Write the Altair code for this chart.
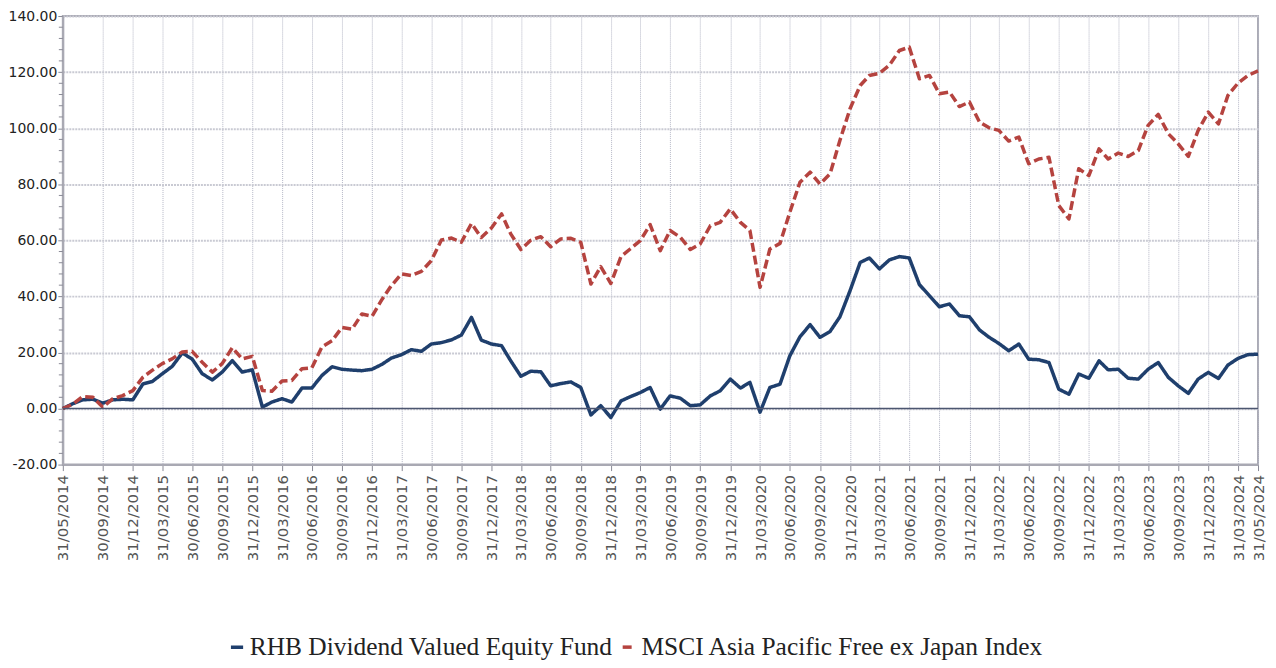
import altair as alt
import pandas as pd

# ---------------- data ----------------
try:
    _rng = pd.date_range("2014-05-31", "2024-05-31", freq="ME")
except ValueError:
    _rng = pd.date_range("2014-05-31", "2024-05-31", freq="M")
dates = [d.strftime("%Y-%m-%d") for d in _rng]

fund = [
    0.0, 1.7, 3.1, 3.3, 1.9, 3.1, 3.3, 3.1, 8.8, 9.6,
    12.4, 15.0, 19.8, 17.7, 12.4, 10.2, 13.0, 17.1, 13.0, 13.8,
    0.5, 2.3, 3.5, 2.3, 7.3, 7.3, 11.8, 14.9, 14.0, 13.7,
    13.5, 14.0, 15.8, 18.0, 19.2, 21.0, 20.4, 23.0, 23.5, 24.5,
    26.2, 32.5, 24.4, 23.0, 22.4, 17.0, 11.5, 13.3, 13.1, 8.1,
    8.9, 9.5, 7.5, -2.3, 1.0, -3.2, 2.7, 4.2, 5.7, 7.5,
    -0.2, 4.5, 3.7, 1.0, 1.3, 4.5, 6.3, 10.5, 7.3, 9.3,
    -1.3, 7.5, 8.7, 18.8, 25.6, 29.9, 25.4, 27.5, 32.7, 42.0,
    52.1, 53.7, 49.8, 53.0, 54.2, 53.7, 44.2, 40.2, 36.3, 37.3,
    33.1, 32.7, 28.0, 25.5, 23.2, 20.6, 23.0, 17.6, 17.4, 16.4,
    6.9, 5.1, 12.3, 10.8, 17.0, 13.8, 14.0, 10.8, 10.5, 14.0,
    16.4, 11.1, 8.1, 5.4, 10.5, 12.9, 10.7, 15.5, 17.9, 19.2,
    19.4,
]

index = [
    0.0, 1.5, 4.3, 4.0, 0.5, 3.5, 4.6, 6.4, 11.2, 13.6,
    16.0, 17.7, 20.2, 20.4, 16.5, 13.0, 16.0, 21.7, 17.7, 18.6,
    6.4, 6.2, 9.8, 10.0, 14.2, 14.5, 22.0, 24.2, 28.9, 28.3,
    33.7, 32.9, 39.0, 43.8, 48.0, 47.4, 48.9, 52.7, 60.1, 60.8,
    59.3, 66.0, 61.0, 64.4, 69.4, 62.3, 56.7, 60.0, 61.3, 57.7,
    60.5, 60.7, 59.3, 44.4, 50.6, 44.6, 54.2, 56.9, 59.9, 65.6,
    56.3, 63.5, 61.1, 56.7, 58.7, 65.2, 66.4, 71.2, 66.4, 63.5,
    43.2, 56.9, 58.9, 70.0, 80.7, 84.3, 80.1, 83.7, 95.6, 106.9,
    115.2, 118.8, 119.6, 122.4, 127.7, 128.9, 117.6, 118.8, 112.3, 112.9,
    107.7, 109.3, 102.1, 100.2, 99.2, 95.4, 96.8, 87.3, 89.0, 89.6,
    72.4, 67.6, 85.5, 83.1, 92.6, 89.0, 91.1, 89.9, 92.0, 101.0,
    104.9, 98.0, 94.4, 89.9, 99.2, 105.7, 101.5, 111.7, 116.1, 118.8,
    120.4,
]

series_names = ["RHB Dividend Valued Equity Fund", "MSCI Asia Pacific Free ex Japan Index"]
series_colors = ["#1f3f6d", "#b5433f"]

y_major = [-20, 0, 20, 40, 60, 80, 100, 120, 140]
y_minor = [v for v in range(-20, 141, 4) if v % 20 != 0]
zero_line = [0]

# x tick dates: first, every quarter end from Sep 2014, last
tick_dates = [dates[0]] + [d for d in dates[4:-1] if d[5:7] in ("03", "06", "09", "12")] + [dates[-1]]

# ---------------- build table ----------------
rows = []
for d, f, i in zip(dates, fund, index):
    rows.append({"date": d, "series": series_names[0], "value": f})
    rows.append({"date": d, "series": series_names[1], "value": i})
df = pd.DataFrame(rows)


def to_dt(s):
    y, m, dd = s.split("-")
    return alt.DateTime(year=int(y), month=int(m), date=int(dd), utc=True)


x_scale = alt.Scale(type="utc", domain=[to_dt(dates[0]), to_dt(dates[-1])])
y_scale = alt.Scale(domain=[-20, 140], nice=False, zero=False)

x_axis = alt.Axis(
    values=[to_dt(d) for d in tick_dates],
    labelExpr="utcFormat(datum.value, '%d/%m/%Y')",
    labelAngle=270,
    labelFont="DejaVu Sans",
    labelFontSize=15,
    labelColor="#555555",
    labelOverlap=False,
    labelFlush=False,
    labelBound=False,
    labelPadding=4,
    tickSize=6,
    tickColor="#8a8a96",
    domainColor="#a9a9b3",
    domainWidth=2,
    grid=True,
    gridColor="#b5b7c6",
    gridDash=[1, 1],
    gridWidth=1,
    title=None,
)

y_axis = alt.Axis(
    values=y_major,
    labelExpr="(datum.value < 0 ? '-' : '') + format(abs(datum.value), '.2f')",
    labelFont="DejaVu Sans",
    labelFontSize=14,
    labelColor="#222222",
    labelPadding=1,
    tickSize=5,
    tickColor="#8a8a96",
    domainColor="#a9a9b3",
    domainWidth=2,
    grid=True,
    gridColor="#c9cad3",
    gridDash=[2, 1],
    gridWidth=2,
    title=None,
)

legend = alt.Legend(
    title=None,
    orient="none",
    legendX=162,
    legendY=620,
    direction="horizontal",
    labelFont="Liberation Serif",
    labelFontSize=25.5,
    labelColor="#222222",
    labelLimit=0,
    symbolType="stroke",
    symbolSize=150,
    symbolStrokeWidth=3.5,
    columnPadding=2,
    labelOffset=0,
)

lines = alt.Chart(df).mark_line(strokeWidth=3.5, strokeJoin="round").encode(
    x=alt.X("date:T", scale=x_scale, axis=x_axis),
    y=alt.Y("value:Q", scale=y_scale, axis=y_axis),
    color=alt.Color("series:N", scale=alt.Scale(domain=series_names, range=series_colors), legend=legend),
    strokeDash=alt.StrokeDash(
        "series:N",
        scale=alt.Scale(domain=series_names, range=[[1, 0], [9, 4]]),
        legend=legend,
    ),
    detail="series:N",
)

zero = alt.Chart(pd.DataFrame({"value": zero_line})).mark_rule(color="#4c5670", strokeWidth=1.5).encode(
    y=alt.Y("value:Q", scale=y_scale, axis=y_axis)
)

minor = alt.Chart(pd.DataFrame({"value": y_minor})).mark_rule(color="#8a8a96", strokeWidth=1).encode(
    y=alt.Y("value:Q", scale=y_scale, axis=y_axis),
    x=alt.value(-4),
    x2=alt.value(0),
)

chart = (
    alt.layer(lines, zero, minor)
    .properties(
        width=1199,
        height=450,
        autosize=alt.AutoSizeParams(type="none"),
        padding={"left": 55, "top": 7, "right": 10, "bottom": 200},
    )
    .configure_view(stroke="#a9a9b3", strokeWidth=2)
)

chart.save("out.html", embed_options={"renderer": "svg", "actions": False})
